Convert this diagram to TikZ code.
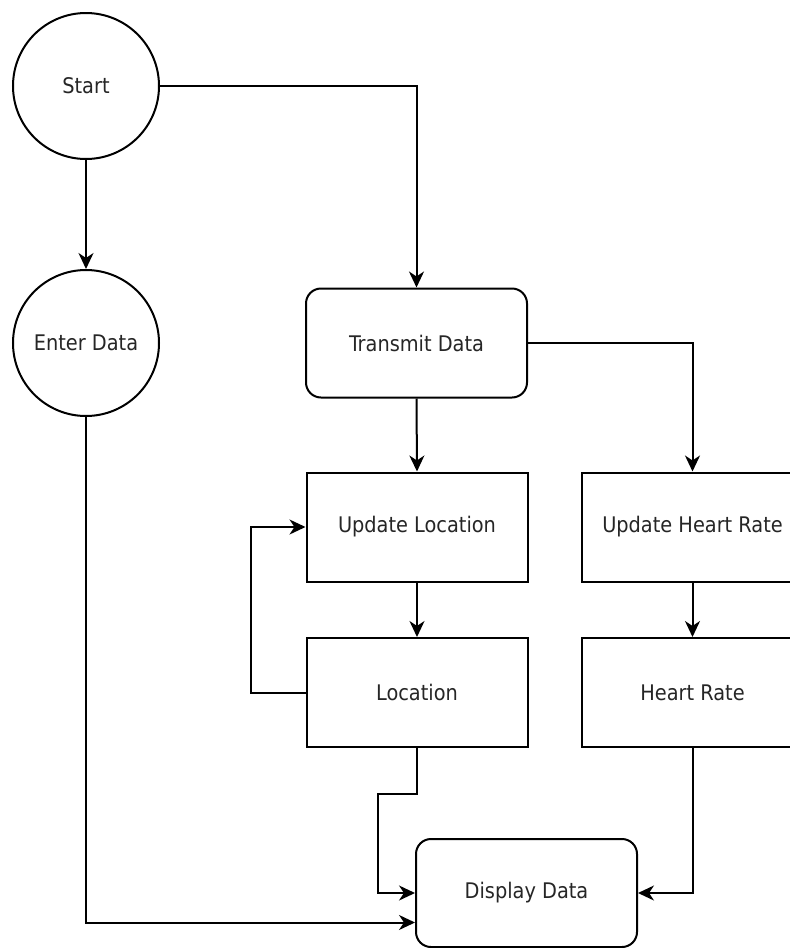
\documentclass[tikz,border=0pt]{standalone}
\usepackage{fontspec}
\setmainfont{DejaVu Sans Condensed}
\usetikzlibrary{arrows.meta}
\definecolor{txt}{HTML}{262626}
\tikzset{
  base/.style={draw=black, line width=2pt, fill=white, text=txt, font=\fontsize{21.5}{25}\selectfont, inner sep=0pt},
  circ/.style={base, circle, minimum size=146pt},
  box/.style={base, rectangle, minimum width=221pt, minimum height=109pt},
  rbox/.style={box, rounded corners=15pt},
  arr/.style={draw=black, line width=2pt, -{Stealth[length=16pt,width=15pt,inset=5pt]}}
}
\begin{document}
\begin{tikzpicture}[x=1pt,y=-1pt]
\clip (0,0) rectangle (790,948);
\fill[white] (0,0) rectangle (790,948);
\node[circ] (start) at (86,86) {Start};
\node[circ] (enter) at (86,343) {Enter Data};
\node[rbox] (transmit) at (416.5,343) {Transmit Data};
\node[box] (ul) at (417,527) {Update Location};
\node[box] (loc) at (417,692.5) {Location};
\node[box] (uhr) at (692.5,527) {Update Heart Rate};
\node[box] (hr) at (692.5,692.5) {Heart Rate};
\node[rbox, minimum height=108pt] (disp) at (526.5,893) {Display Data};
\draw[arr] (start.east) -| (transmit.north);
\draw[arr] (start.south) -- (enter.north);
\draw[arr] (transmit.east) -| (uhr.north);
\draw[arr] (transmit.south) -- (ul.north);
\draw[arr] (ul.south) -- (loc.north);
\draw[arr] (uhr.south) -- (hr.north);
\draw[arr] (loc.west) -- ++(-55,0) |- (ul.west);
\draw[arr] (loc.south) -- ++(0,46) -| ([xshift=-37pt]disp.west) -- (disp.west);
\draw[arr] (enter.south) |- ([yshift=-29.5pt]disp.west);
\draw[arr] (hr.south) |- (disp.east);
\end{tikzpicture}
\end{document}
